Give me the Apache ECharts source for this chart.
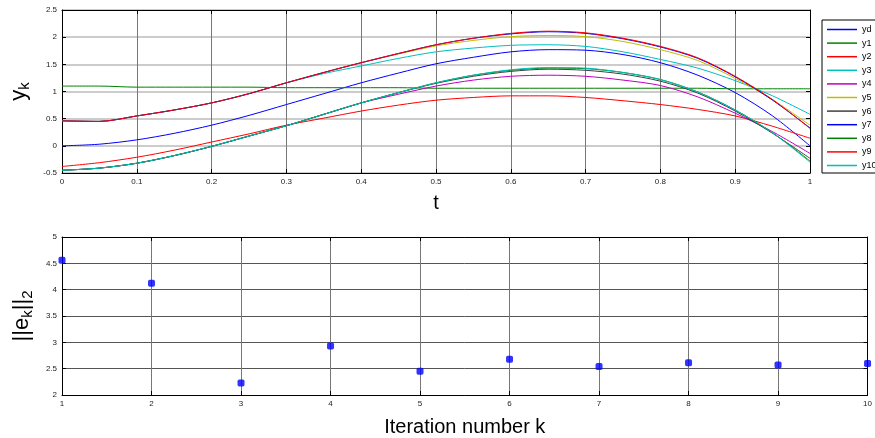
<!DOCTYPE html>
<html>
<head>
<meta charset="utf-8">
<script src="https://cdn.jsdelivr.net/npm/echarts@6/dist/echarts.min.js"></script>
<style>
  html, body { margin: 0; padding: 0; background: #fff; }
  #main { width: 875px; height: 438px; }
</style>
</head>
<body>
<div id="main"></div>
<script>
// time samples and outputs
var tVals = [0, 0.05, 0.1, 0.15, 0.2, 0.25, 0.3, 0.35, 0.4, 0.45, 0.5, 0.55, 0.6, 0.65, 0.7, 0.75, 0.8, 0.85, 0.9, 0.95, 1];
var yd  = [0, 0.03, 0.11, 0.23, 0.38, 0.56, 0.76, 0.96, 1.16, 1.34, 1.51, 1.63, 1.73, 1.77, 1.76, 1.68, 1.53, 1.30, 0.98, 0.55, 0.00];
var y1  = [1.10, 1.10, 1.08, 1.08, 1.08, 1.08, 1.07, 1.07, 1.07, 1.07, 1.06, 1.06, 1.06, 1.06, 1.06, 1.06, 1.06, 1.06, 1.05, 1.05, 1.05];
var y2  = [-0.38, -0.31, -0.21, -0.08, 0.07, 0.22, 0.38, 0.51, 0.64, 0.75, 0.84, 0.89, 0.92, 0.92, 0.89, 0.83, 0.76, 0.67, 0.55, 0.36, 0.14];
var y3  = [0.46, 0.45, 0.55, 0.66, 0.79, 0.96, 1.16, 1.33, 1.47, 1.61, 1.73, 1.80, 1.85, 1.86, 1.83, 1.73, 1.59, 1.43, 1.20, 0.92, 0.58];
var y4  = [-0.45, -0.41, -0.32, -0.18, -0.01, 0.18, 0.37, 0.58, 0.79, 0.95, 1.10, 1.21, 1.28, 1.30, 1.28, 1.21, 1.11, 0.90, 0.60, 0.26, -0.14];
var y5  = [0.46, 0.45, 0.55, 0.66, 0.79, 0.96, 1.16, 1.35, 1.53, 1.69, 1.84, 1.94, 2.01, 2.03, 2.01, 1.92, 1.77, 1.57, 1.24, 0.85, 0.38];
var y6  = [-0.45, -0.41, -0.32, -0.18, -0.01, 0.18, 0.37, 0.58, 0.79, 0.98, 1.15, 1.28, 1.37, 1.41, 1.39, 1.32, 1.19, 0.97, 0.64, 0.23, -0.23];
var y7  = [0.46, 0.45, 0.55, 0.66, 0.79, 0.96, 1.16, 1.35, 1.53, 1.70, 1.86, 1.98, 2.06, 2.10, 2.07, 1.97, 1.82, 1.61, 1.27, 0.84, 0.33];
var y8  = [-0.45, -0.41, -0.32, -0.18, -0.01, 0.18, 0.37, 0.58, 0.79, 0.98, 1.16, 1.30, 1.39, 1.43, 1.42, 1.35, 1.22, 0.99, 0.66, 0.24, -0.28];
var y9  = [0.46, 0.45, 0.55, 0.66, 0.79, 0.96, 1.16, 1.35, 1.53, 1.70, 1.86, 1.98, 2.07, 2.11, 2.08, 1.98, 1.83, 1.62, 1.28, 0.85, 0.32];
var y10 = [-0.45, -0.41, -0.32, -0.18, -0.01, 0.18, 0.37, 0.58, 0.79, 0.98, 1.16, 1.30, 1.40, 1.44, 1.43, 1.35, 1.22, 0.99, 0.66, 0.24, -0.30];

var seriesNames = ['yd', 'y1', 'y2', 'y3', 'y4', 'y5', 'y6', 'y7', 'y8', 'y9', 'y10'];
var seriesVals = [yd, y1, y2, y3, y4, y5, y6, y7, y8, y9, y10];

// error norm per iteration
var iterK = [1, 2, 3, 4, 5, 6, 7, 8, 9, 10];
var errNorm = [4.56, 4.12, 2.23, 2.93, 2.45, 2.68, 2.54, 2.61, 2.57, 2.60];

var colors = ['#0000ff', '#008000', '#ff0000', '#00bfbf', '#bf00bf', '#bfbf00', '#404040', '#0000ff', '#008000', '#ff0000', '#00bfbf'];
var FONT = 'Liberation Sans, Arial, sans-serif';

function pairs(xs, ys) {
  return xs.map(function (x, i) { return [x, ys[i]]; });
}

var lbl = {fontSize: 8, color: '#222', fontFamily: FONT};

function mainAxis(extra) {
  var a = {
    axisLine: {show: true, onZero: false, lineStyle: {color: '#000', width: 1}},
    axisTick: {show: true, inside: true, length: 4, lineStyle: {color: '#000'}},
    axisLabel: Object.assign({margin: 5}, lbl),
    splitLine: {show: true, lineStyle: {color: '#aaa', width: 1}}
  };
  return Object.assign(a, extra);
}
function boxAxis(extra) {
  var a = {
    axisLine: {show: true, onZero: false, lineStyle: {color: '#000', width: 1}},
    axisTick: {show: true, inside: true, length: 4, lineStyle: {color: '#000'}},
    axisLabel: {show: false},
    splitLine: {show: false}
  };
  return Object.assign(a, extra);
}

var myChart = echarts.init(document.getElementById('main'));

var series = seriesNames.map(function (n, i) {
  return {
    name: n,
    type: 'line',
    xAxisIndex: 0,
    yAxisIndex: 0,
    data: pairs(tVals, seriesVals[i]),
    symbol: 'none',
    smooth: 0.3,
    lineStyle: {width: 1, color: colors[i]},
    itemStyle: {color: colors[i]},
    z: 3 + i
  };
});
series.push({
  name: 'err',
  type: 'scatter',
  xAxisIndex: 2,
  yAxisIndex: 2,
  data: pairs(iterK, errNorm),
  symbol: 'roundRect',
  symbolSize: 7,
  itemStyle: {color: '#0000ff'},
  z: 5
});

var subRich = {
  a: {fontSize: 22, fontFamily: FONT, color: '#000', lineHeight: 26},
  b: {fontSize: 15, fontFamily: FONT, color: '#000', lineHeight: 26, verticalAlign: 'bottom', padding: [8, 0, 0, 0]}
};

var option = {
  animation: false,
  backgroundColor: '#fff',
  grid: [
    {left: 62, top: 10, width: 748, height: 163},
    {left: 62, top: 237, width: 808, height: 163}
  ],
  legend: {
    data: seriesNames,
    orient: 'vertical',
    left: 822,
    top: 20,
    padding: [4, 8, 2, 5],
    icon: 'rect',
    itemWidth: 30,
    itemHeight: 1.5,
    itemGap: 2.6,
    borderColor: '#000',
    borderWidth: 1,
    backgroundColor: '#fff',
    textStyle: {fontSize: 9, lineHeight: 11, color: '#000', fontFamily: FONT}
  },
  xAxis: [
    mainAxis({
      type: 'value', gridIndex: 0, min: 0, max: 1, interval: 0.1,
      name: 't', nameLocation: 'middle', nameGap: 20,
      nameTextStyle: {fontSize: 20, color: '#000', fontFamily: FONT},
      splitLine: {show: true, lineStyle: {color: '#777', width: 1}}
    }),
    boxAxis({type: 'value', gridIndex: 0, position: 'top', min: 0, max: 1, interval: 0.1}),
    mainAxis({
      type: 'value', gridIndex: 1, min: 1, max: 10, interval: 1,
      name: 'Iteration number k', nameLocation: 'middle', nameGap: 22,
      nameTextStyle: {fontSize: 20, color: '#000', fontFamily: FONT},
      splitLine: {show: true, lineStyle: {color: '#777', width: 1}}
    }),
    boxAxis({type: 'value', gridIndex: 1, position: 'top', min: 1, max: 10, interval: 1})
  ],
  yAxis: [
    mainAxis({
      type: 'value', gridIndex: 0, min: -0.5, max: 2.5, interval: 0.5,
      name: '{a|y}{b|k}', nameLocation: 'middle', nameGap: 23, nameRotate: 90,
      nameTextStyle: {color: '#000', fontFamily: FONT, rich: subRich},
      splitLine: {show: true, lineStyle: {color: '#bbb', width: 1.5}}
    }),
    boxAxis({type: 'value', gridIndex: 0, position: 'right', min: -0.5, max: 2.5, interval: 0.5}),
    mainAxis({
      type: 'value', gridIndex: 1, min: 2, max: 5, interval: 0.5,
      name: '{a|||e}{b|k}{a|||}{b|2}', nameLocation: 'middle', nameGap: 24, nameRotate: 90,
      nameTextStyle: {color: '#000', fontFamily: FONT, rich: subRich},
      splitLine: {show: true, lineStyle: {color: '#555', width: 1}}
    }),
    boxAxis({type: 'value', gridIndex: 1, position: 'right', min: 2, max: 5, interval: 0.5})
  ],
  series: series
};

myChart.setOption(option);
</script>
</body>
</html>
